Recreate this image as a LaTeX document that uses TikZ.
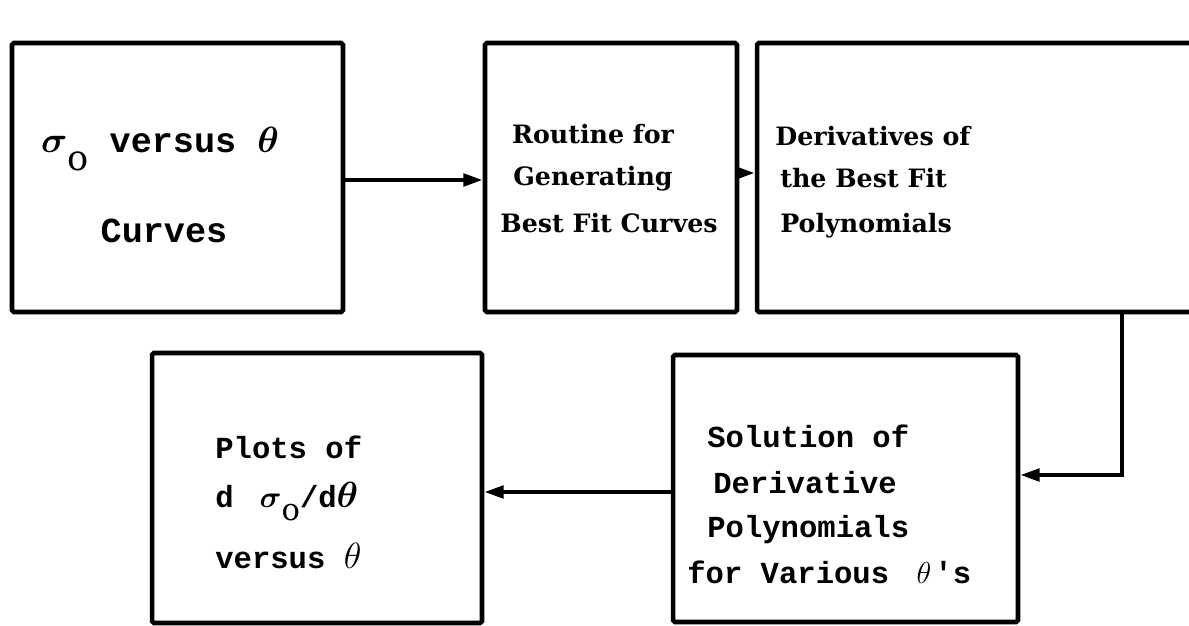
\documentclass[tikz,border=0pt]{standalone}
\usepackage{amsmath}
\usepackage{bm}
\usepackage{fontspec}
\setmainfont{DejaVu Serif}
\newfontfamily\tw{Liberation Mono}
\usetikzlibrary{arrows.meta}
\newcommand{\bth}{{\fontsize{21}{21}\selectfont$\bm{\theta}$}}
\newcommand{\lth}{{\fontsize{21}{21}\selectfont$\theta$}}
\newcommand{\sgo}[1]{$\bm{\sigma}$\raisebox{-#1}{\rmfamily\mdseries o}}
\begin{document}
\begin{tikzpicture}[x=0.02cm,y=-0.02cm,
  box/.style={draw,line width=2.6pt,rounded corners=1pt,inner sep=0pt},
  conn/.style={line width=2.4pt,-{Triangle[length=11pt,width=7pt]}},
  bt/.style={font=\bfseries\fontsize{14.4}{16}\selectfont,inner sep=0pt},
  lt/.style={font=\tw\bfseries\fontsize{17.4}{20}\selectfont,inner sep=0pt},
  big/.style={font=\tw\bfseries\fontsize{20}{24}\selectfont,inner sep=0pt}]
\clip (0,0) rectangle (1189,625);
\fill[white] (0,0) rectangle (1189,625);
% boxes
\node[box,minimum width=6.62cm,minimum height=5.38cm] (b1) at (177.5,177.5) {};
\node[box,minimum width=5.04cm,minimum height=5.38cm] (b2) at (611,177.5) {};
\node[box,minimum width=8.76cm,minimum height=5.38cm] (b3) at (976,177.5) {};
\node[box,minimum width=6.90cm,minimum height=5.34cm] (b4) at (845.5,488.5) {};
\node[box,minimum width=6.60cm,minimum height=5.40cm] (b5) at (317,488) {};
% texts box 1
\node[big,anchor=base] (t1a) at (160,153) {\sgo{0.5em} versus $\bm{\theta}$};
\node[big,anchor=base] (t1b) at (164,242) {Curves};
% box 2
\node[bt,anchor=base] (t2a) at (593,143) {Routine for};
\node[bt,anchor=base] (t2b) at (593,185) {Generating};
\node[bt,anchor=base] (t2c) at (609,232) {Best Fit Curves};
% box 3
\node[bt,anchor=base west] (t3a) at (775,145) {Derivatives of};
\node[bt,anchor=base west] (t3b) at (780,187) {the Best Fit};
\node[bt,anchor=base west] (t3c) at (780,232) {Polynomials};
% box 4
\node[lt,anchor=base west] (t4a) at (707,447) {Solution of};
\node[lt,anchor=base west] (t4b) at (713,493) {Derivative};
\node[lt,anchor=base west] (t4c) at (707,537) {Polynomials};
\node[lt,anchor=base west] (t4d) at (687,583) {for Various\hspace{0.9em}$\theta$\hspace{0.1em}'s};
% box 5
\node[lt,anchor=base west] (t5a) at (215,458) {Plots of};
\node[lt,anchor=base west] (t5b) at (215,507) {d\hspace{0.85em}\sgo{0.45em}/d\bth};
\node[lt,anchor=base west] (t5c) at (215,568) {versus \lth};
% connectors
\draw[conn] (b1.east |- 0,180) -- (b2.west |- 0,180);
\draw[conn] (b2.east |- 0,173) -- (b3.west |- 0,173);
\coordinate (c1) at (1122,475);
\draw[conn] (b3.south -| c1) -- (c1) -- (b4.east |- c1);
\draw[conn] (b4.west |- 0,492) -- (b5.east |- 0,492);
\end{tikzpicture}
\end{document}
